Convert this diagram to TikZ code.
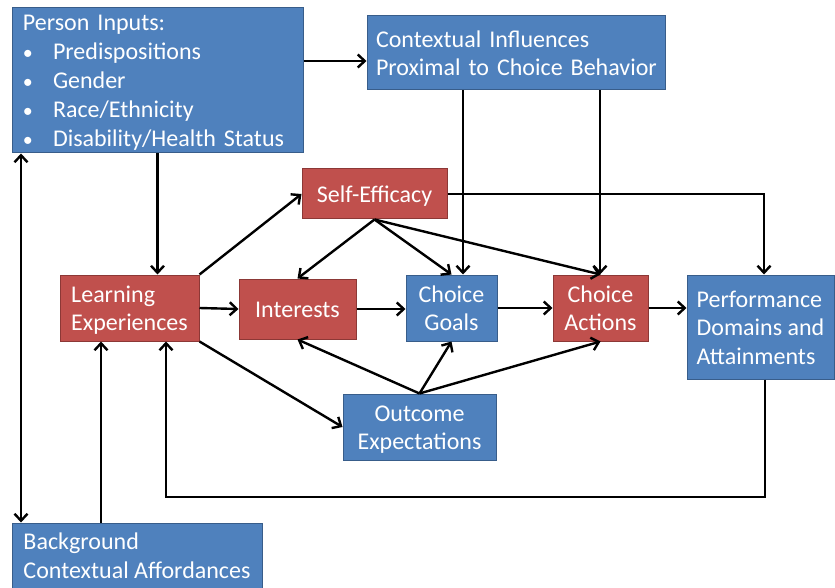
\documentclass[tikz,border=0pt]{standalone}
\usepackage{fontspec}
\setmainfont{Carlito}
\usetikzlibrary{arrows.meta,calc}
\definecolor{bfill}{HTML}{4F81BD}
\definecolor{bdraw}{HTML}{385D8A}
\definecolor{rfill}{HTML}{C0504D}
\definecolor{rdraw}{HTML}{8C3836}
\newcommand\myTS{\rule{0pt}{23pt}}
\newcommand\myBS{\rule[-6pt]{0pt}{6pt}}
\newcommand\myBul{\makebox[30pt][l]{\fontsize{20pt}{20pt}\selectfont •}}
\tikzset{
  base/.style={rectangle, line width=1pt, text=white, inner sep=0pt,
    font=\fontsize{24pt}{28.5pt}\selectfont},
  bluebox/.style={base, fill=bfill, draw=bdraw},
  redbox/.style={base, fill=rfill, draw=rdraw},
  arr/.style={line width=2.4pt, -{Straight Barb[length=7pt,width=13pt]}},
  arrtwo/.style={line width=2.4pt, {Straight Barb[length=7pt,width=13pt]}-{Straight Barb[length=7pt,width=13pt]}}
}
\begin{document}
\begin{tikzpicture}[x=1pt,y=-1pt]
\useasboundingbox (0,0) rectangle (835,588);
% boxes
\node[bluebox, minimum width=291pt, minimum height=145pt, text width=269pt, align=left,
  font=\fontsize{24pt}{29pt}\selectfont] (pin) at (157.5,80.5)
 {\myTS Person Inputs:\\
  \myBul Predispositions\\
  \myBul Gender\\
  \myBul Race/Ethnicity\\
  \myBul Disability/Health Status\myBS};
\node[bluebox, minimum width=298pt, minimum height=74pt, text width=280pt, align=left] (ctx) at (516,53)
 {\mbox{\myTS Contextual Influences}\\\mbox{Proximal to Choice Behavior\myBS}};
\node[redbox, minimum width=145pt, minimum height=50pt] (se) at (374.5,194) {\myTS Self-Efficacy\myBS};
\node[redbox, minimum width=139pt, minimum height=66pt, align=left] (le) at (129.5,308)
 {\myTS Learning\\Experiences\myBS};
\node[redbox, minimum width=117pt, minimum height=60pt] (int) at (297.5,309) {\myTS Interests\myBS};
\node[bluebox, minimum width=91pt, minimum height=66pt, align=center] (cg) at (451.5,308) {\myTS Choice\\Goals\myBS};
\node[redbox, minimum width=95pt, minimum height=66pt, align=center] (ca) at (600.5,308) {\myTS Choice\\Actions\myBS};
\node[bluebox, minimum width=147pt, minimum height=104pt, align=left] (perf) at (760.5,327)
 {\myTS Performance\\Domains and\\Attainments\myBS};
\node[bluebox, minimum width=153pt, minimum height=66pt, align=center] (oe) at (419.5,427) {\myTS Outcome\\Expectations\myBS};
\node[bluebox, minimum width=250pt, minimum height=65pt, align=left] (bg) at (137,555.5)
 {\myTS Background\\Contextual Affordances\myBS};
% coordinates
\coordinate (loopR) at (765,497);
\coordinate (loopL) at (166,497);
% connectors
\draw[arr] (pin.east |- 0,61) -- (ctx.west |- 0,61);
\draw[arr] (pin.south) -- (le.north -| pin.south);
\draw[arrtwo] (pin.south -| 21,0) -- (bg.north -| 21,0);
\draw[arr] (bg.north -| 101,0) -- (le.south -| 101,0);
\draw[arr] (le.north east) -- (se.west);
\draw[arr] (le.east) -- (int.west);
\draw[arr] (le.south east) -- (oe.west);
\draw[arr] (se.south) -- (int.north);
\draw[arr] (se.south) -- (cg.north);
\draw[arr] (se.south) -- (ca.north);
\draw[arr] (se.east) -| (perf.north -| 764,0);
\draw[arr] (ctx.south -| 463,0) -- (cg.north -| 463,0);
\draw[arr] (ctx.south -| 600,0) -- (ca.north -| 600,0);
\draw[arr] (int.east) -- (cg.west |- int.east);
\draw[arr] (cg.east) -- (ca.west);
\draw[arr] (ca.east) -- (perf.west |- ca.east);
\draw[arr] (oe.north) -- (int.south);
\draw[arr] (oe.north) -- (cg.south);
\draw[arr] (oe.north) -- (ca.south);
\draw[arr] (perf.south -| loopR) -- (loopR) -- (loopL) -- (le.south -| loopL);
\end{tikzpicture}
\end{document}
